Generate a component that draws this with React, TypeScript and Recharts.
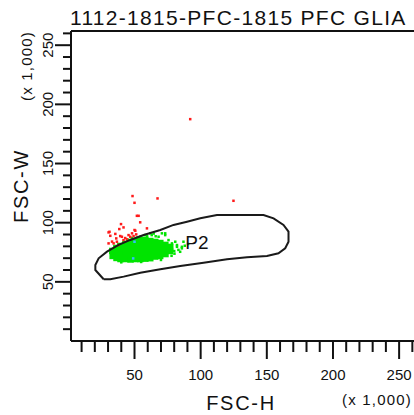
import React from 'react';
import { ScatterChart, Scatter, XAxis, YAxis, ReferenceLine, ReferenceDot, Label } from 'recharts';

const chartTitle = '1112-1815-PFC-1815 PFC GLIA';
const xTitle = 'FSC-H';
const yTitle = 'FSC-W';
const unitNote = '(x 1,000)';
const gateName = 'P2';

const xTicks = [10, 20, 30, 40, 50, 60, 70, 80, 90, 100, 110, 120, 130, 140, 150, 160, 170, 180, 190, 200, 210, 220, 230, 240, 250, 260];
const yTicks = [10, 20, 30, 40, 50, 60, 70, 80, 90, 100, 110, 120, 130, 140, 150, 160, 170, 180, 190, 200, 210, 220, 230, 240, 250, 260];

// P2 gate outline (FSC-H, FSC-W in thousands)
const gateOutline: [number, number][] = [
  [26.7, 52.2], [20.4, 60.0], [20.4, 64.2], [22.9, 69.9], [29.2, 75.5], [38.0, 81.2], [46.8, 85.4],
  [56.9, 89.6], [69.5, 93.8], [79.5, 98.1], [89.7, 100.8], [99.7, 103.7], [112.3, 106.5], [147.5, 106.5],
  [155.1, 103.7], [162.6, 98.1], [166.4, 92.4], [166.4, 83.9], [163.9, 78.4], [158.8, 74.1], [150.1, 71.9],
  [135.0, 70.8], [119.9, 69.1], [102.2, 66.2], [84.6, 63.4], [69.5, 60.6], [54.4, 57.7], [41.8, 54.4],
  [31.7, 52.2], [26.7, 52.2],
];

// dense green core of P2 events
const greenCore: [number, number][] = [
  [33.2, 76.1], [33.5, 71.9], [36.3, 78.6], [36.1, 74.4], [36.4, 70.2],
  [39.3, 80.3], [39.5, 76.1], [39.1, 71.9], [39.4, 69.3],
  [43.1, 82.0], [43.0, 77.8], [43.3, 73.5], [43.0, 69.3],
  [46.8, 83.7], [46.6, 79.5], [46.9, 75.2], [46.7, 71.0], [47.0, 68.9],
  [50.6, 84.5], [50.4, 80.3], [50.7, 76.1], [50.5, 71.9], [50.6, 69.3],
  [54.4, 85.4], [54.2, 81.2], [54.5, 76.9], [54.3, 72.7], [54.4, 69.3],
  [58.2, 85.4], [58.0, 81.2], [58.3, 76.9], [58.1, 72.7], [58.2, 69.6],
  [61.9, 84.5], [61.7, 80.3], [62.0, 76.1], [61.8, 71.9], [61.9, 70.0],
  [65.7, 83.7], [65.5, 79.5], [65.8, 75.2], [65.6, 71.4],
  [69.5, 82.8], [69.3, 78.6], [69.6, 74.4], [69.4, 71.9],
  [73.3, 81.2], [73.1, 76.9], [73.4, 73.5],
  [77.0, 79.5], [76.8, 76.1],
];

// scattered green events around the core
const greenSparse: [number, number][] = [
  [75.7, 85.3], [78.3, 82.5], [80.8, 83.9], [82.1, 79.6], [84.5, 75.4], [85.8, 78.3], [77.0, 78.3],
  [73.2, 89.5], [70.7, 91.0], [68.2, 88.1], [61.9, 91.0], [58.1, 89.5], [54.3, 88.1], [73.2, 91.0],
  [87.0, 83.9], [85.8, 79.6], [82.1, 81.1], [40.0, 66.5], [55.0, 66.8], [70.0, 68.5], [78.0, 72.0],
  [80.0, 76.0], [66.0, 88.5], [48.0, 87.0], [63.0, 89.5], [90.5, 82.0], [88.0, 80.5], [64.5, 90.8],
  [59.5, 88.6], [51.8, 87.4], [44.5, 85.8], [80.2, 73.8], [83.2, 77.0],
];

// red events outside the gate
const redEvents: [number, number][] = [
  [48.5, 122.5], [67.4, 120.5], [50.0, 116.8], [51.8, 105.8], [53.1, 105.8], [54.3, 100.3], [39.8, 98.8],
  [41.7, 96.0], [38.5, 94.6], [50.0, 93.8], [59.4, 95.2], [31.1, 92.3], [31.7, 88.9], [36.2, 86.7],
  [39.2, 88.7], [40.5, 88.1], [45.5, 89.5], [48.1, 91.0], [50.6, 93.2], [30.4, 82.5], [34.2, 82.5],
  [36.7, 83.9], [41.7, 85.3], [44.3, 85.9], [46.8, 88.1], [49.3, 88.7], [51.3, 90.1], [37.9, 81.1],
  [124.8, 118.5], [92.1, 187.5], [30.4, 91.8], [33.0, 84.0], [43.0, 87.0], [35.5, 90.5],
];

const cyanEvents: [number, number][] = [[50.0, 83.9], [49.0, 69.8]];

const gateLabel = { x: 97.2, y: 83.3 };

const toPts = (a: [number, number][]) => a.map(([x, y]) => ({ x, y }));

const FONT = '"Liberation Sans", Arial, sans-serif';
const INK = '#111';

const square = (size: number, fill: string) => (p: any) => (
  <rect x={p.cx - size / 2} y={p.cy - size / 2} width={size} height={size} fill={fill} />
);

const XTick = (p: any) => {
  const v = p.payload.value;
  const major = v % 50 === 0;
  return (
    <g>
      <line x1={p.x} x2={p.x} y1={p.y} y2={p.y + (major ? 18 : 11)} stroke={INK} strokeWidth={2} />
      {major && (
        <text x={p.x} y={p.y + 33} textAnchor="middle" dominantBaseline="central" fontFamily={FONT} fontSize={15} fill={INK}>
          {v}
        </text>
      )}
    </g>
  );
};

const YTick = (p: any) => {
  const v = p.payload.value;
  const major = v % 50 === 0;
  const tx = p.x - 23;
  return (
    <g>
      <line x1={p.x - (major ? 16 : 8)} x2={p.x} y1={p.y} y2={p.y} stroke={INK} strokeWidth={2} />
      {major && (
        <text x={tx} y={p.y} transform={`rotate(-90 ${tx} ${p.y})`} textAnchor="middle" dominantBaseline="central" fontFamily={FONT} fontSize={15} fill={INK}>
          {v}
        </text>
      )}
    </g>
  );
};

const XLabel = () => (
  <g>
    <text x={241} y={402.5} textAnchor="middle" dominantBaseline="central" fontFamily={FONT} fontSize={20} letterSpacing={1.7} fill={INK}>
      {xTitle}
    </text>
    <text x={377} y={399} textAnchor="middle" dominantBaseline="central" fontFamily={FONT} fontSize={15} letterSpacing={1.2} fill={INK}>
      {unitNote}
    </text>
  </g>
);

const YLabel = () => (
  <g>
    <text x={70} y={25} textAnchor="start" fontFamily={FONT} fontSize={21} letterSpacing={1.3} fill={INK}>
      {chartTitle}
    </text>
    <text x={21} y={186} transform="rotate(-90 21 186)" textAnchor="middle" dominantBaseline="central" fontFamily={FONT} fontSize={20} letterSpacing={1.7} fill={INK}>
      {yTitle}
    </text>
    <text x={26} y={66} transform="rotate(-90 26 66)" textAnchor="middle" dominantBaseline="central" fontFamily={FONT} fontSize={15} letterSpacing={1.2} fill={INK}>
      {unitNote}
    </text>
  </g>
);

export default function App() {
  return (
    <div style={{ position: 'fixed', left: 0, top: 0, width: 414, height: 415, overflow: 'hidden', background: '#fff' }}>
      <ScatterChart width={420} height={415} margin={{ top: 31, right: 5, bottom: 0, left: 0 }}>
        <XAxis
          type="number"
          dataKey="x"
          domain={[2, 262]}
          ticks={xTicks}
          height={74}
          tickSize={0}
          tickMargin={0}
          tick={<XTick />}
          interval={0}
          allowDataOverflow
          axisLine={{ stroke: INK, strokeWidth: 2 }}
        >
          <Label content={<XLabel />} />
        </XAxis>
        <YAxis
          type="number"
          dataKey="y"
          domain={[0, 262]}
          ticks={yTicks}
          width={71}
          tickSize={0}
          tickMargin={0}
          tick={<YTick />}
          interval={0}
          allowDataOverflow
          axisLine={{ stroke: INK, strokeWidth: 2 }}
        >
          <Label content={<YLabel />} />
        </YAxis>
        <ReferenceLine y={262} stroke={INK} strokeWidth={2} />
        <Scatter data={toPts(greenCore)} isAnimationActive={false} shape={square(6.5, '#00e400')} />
        <Scatter data={toPts(greenSparse)} isAnimationActive={false} shape={square(2.5, '#00e400')} />
        <Scatter data={toPts(redEvents)} isAnimationActive={false} shape={square(2.5, '#ff1a1a')} />
        <Scatter data={toPts(cyanEvents)} isAnimationActive={false} shape={square(2.5, '#33bbff')} />
        <Scatter
          data={toPts(gateOutline)}
          isAnimationActive={false}
          stroke="#1a1a1a"
          line={{ stroke: '#1a1a1a', strokeWidth: 2 }}
          lineType="joint"
          shape={() => <g />}
        />
        <ReferenceDot
          x={gateLabel.x}
          y={gateLabel.y}
          r={0}
          fill="none"
          stroke="none"
          label={{ value: gateName, position: 'center', fontSize: 19, fill: INK, fontFamily: FONT }}
        />
      </ScatterChart>
    </div>
  );
}
